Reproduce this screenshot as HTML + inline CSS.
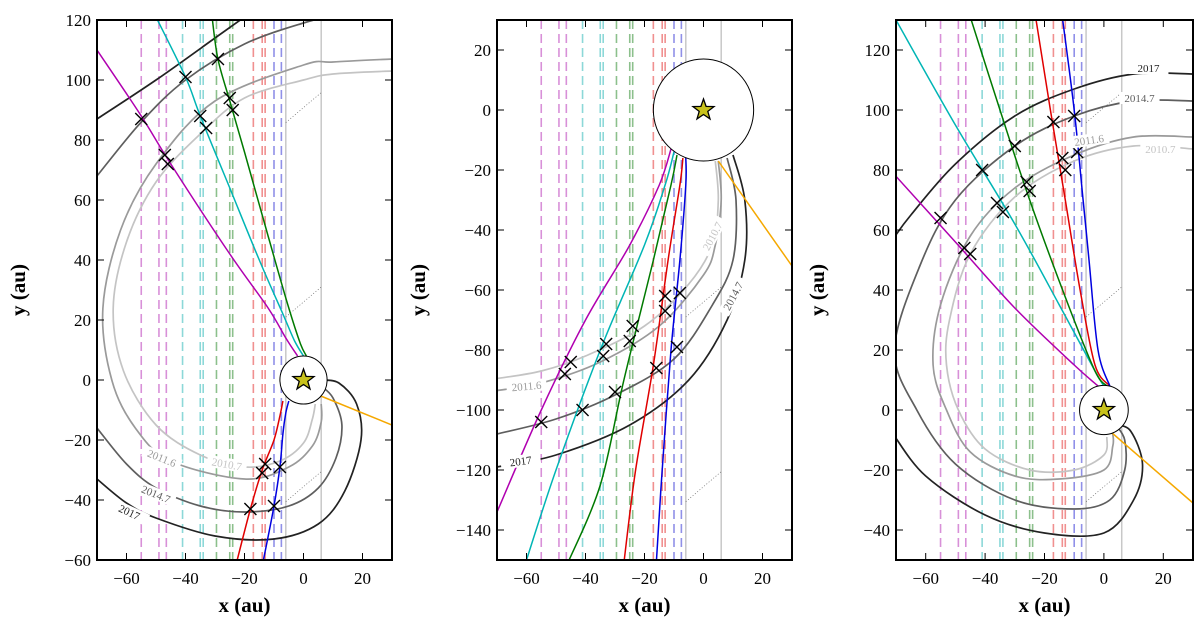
<!DOCTYPE html>
<html><head><meta charset="utf-8"><style>
body{margin:0;background:#fff}
svg text{font-family:"Liberation Serif",serif}
</style></head><body>
<svg id="fig" width="1200" height="618" viewBox="0 0 1200 618" xmlns="http://www.w3.org/2000/svg"></svg>
<script>
// ---------- data ----------
const xTicks=[-60,-40,-20,0,20];
const yTicks1=[-60,-40,-20,0,20,40,60,80,100,120];
const yTicks2=[-140,-120,-100,-80,-60,-40,-20,0,20];
const yTicks3=[-40,-20,0,20,40,60,80,100,120];
const dashX=[-55,-49,-46.5,-41,-35,-34,-29.5,-25,-24,-17,-14,-13,-10,-7.5];
const dashColors=["m","m","m","c","c","c","g","g","g","r","r","r","b","b"];
const greyX=[-6,6];
const epochs=["2010.7","2011.6","2014.7","2017"];
const epochColors=["#c4c4c4","#9a9a9a","#5e5e5e","#222"];
// panel 1
const p1Shells=[
 [[30,103],[10,102],[0,100],[-20,94],[-35,82],[-50,66],[-60,46],[-64.5,24],[-61,3],[-50,-15],[-35,-25],[-20,-29],[-8,-27],[0,-21],[3,-13],[4,-8]],
 [[30,107],[10,106],[0,105],[-30,93],[-50,72],[-62,50],[-68,24],[-65,0],[-57,-16],[-45,-27],[-20,-33],[-5,-29],[3,-22],[6,-14],[6,-8]],
 [[-70,68],[-55,86],[-40,100],[-20,112],[0,119],[10,121],[30,122]],
 [[-70,87],[-50,100],[-30,114],[-20,121]]
];
const p1ShellsLow=[
 [[-70,-16],[-60,-28],[-50,-36],[-35,-42],[-20,-44],[-5,-42],[5,-36],[11,-26],[13,-15],[10,-6],[6,-2]],
 [[-70,-33],[-60,-41],[-50,-46],[-30,-52],[-10,-53],[5,-48],[14,-37],[19.5,-20],[18,-8],[12,-1],[6,0]]
];
const p1Traj=[
 [[-70,110],[-55,88],[-45,72],[-25,42],[-12,24],[-6,14],[-2,8]],
 [[-50,121],[-40,101],[-35,88],[-25,64],[-15,40],[-7,22],[-3,13],[0,8]],
 [[-31,121],[-29,107],[-25,93],[-20,76],[-12,48],[-5,24],[-1,12],[1,8]],
 [[-23,-62],[-18,-43],[-14,-30],[-10,-20],[-8,-12],[-7,-7]],
 [[-14,-62],[-10,-42],[-8,-29],[-7,-18],[-6,-11],[-5,-7]],
 [[5,-5],[30,-15]]
];
const p1Marks=[[-55,87],[-47,75],[-46,72],[-40,101],[-35,88],[-33,84],[-29,107],[-25,94],[-24,90],[-18,-43],[-13,-28],[-14,-31],[-10,-42],[-8,-29]];
const p1Labels=[[-26,-28,"2010.7",10],[-48,-26,"2011.6",22],[-50,-38,"2014.7",22],[-59,-44,"2017",25]];
// panel 2
const p2Shells=[
 [[4,-17],[5,-30],[3,-45],[-5,-58],[-20,-72],[-40,-82],[-55,-87],[-70,-89.5]],
 [[5,-17],[6,-30],[4,-45],[0,-55],[-15,-72],[-35,-84],[-55,-91],[-70,-93.5]],
 [[8,-16],[11,-30],[10,-50],[3,-65],[-10,-83],[-30,-95],[-50,-103],[-70,-108]],
 [[10,-15],[14,-30],[14,-50],[8,-70],[-5,-90],[-25,-105],[-50,-115],[-70,-119]]
];
const p2Traj=[
 [[-11,-13],[-15,-25],[-25,-45],[-40,-70],[-55,-100],[-70,-134]],
 [[-10,-14],[-13,-25],[-20,-45],[-35,-80],[-50,-120],[-60,-150]],
 [[-9,-15],[-11,-25],[-17,-50],[-27,-90],[-35,-125],[-46,-151]],
 [[-7,-16],[-8,-25],[-12,-50],[-17,-85],[-23,-120],[-27,-151]],
 [[-6,-16],[-6,-25],[-8,-50],[-11,-80],[-14,-120],[-16,-151]],
 [[5,-17],[30,-52]]
];
const p2Marks=[[-55,-104],[-47,-88],[-45,-84],[-41,-100],[-34,-82],[-33,-78],[-30,-94],[-25,-77],[-24,-72],[-16,-86],[-13,-67],[-13,-62],[-9,-79],[-8,-61]];
const p2Labels=[[3,-42,"2010.7",-62],[-60,-92,"2011.6",-5],[10,-62,"2014.7",-62],[-62,-117,"2017",-8]];
// panel 3
const p3Shells=[
 [[30,87],[10,88],[-10,83],[-30,71],[-45,52],[-52,30],[-53,15],[-49,0],[-40,-13],[-25,-20],[-10,-20],[0,-15],[1,-9]],
 [[30,91],[10,91],[-10,85],[-30,74],[-45,58],[-55,35],[-57.5,15],[-53,0],[-45,-14],[-30,-22],[-15,-23],[0,-20],[3,-12],[3,-8]],
 [[30,103],[10,103],[-10,98],[-30,88],[-50,70],[-62,48],[-70.5,20],[-63,0],[-50,-18],[-30,-30],[-10,-33],[2,-30],[7,-20],[7,-10],[4,-5]],
 [[30,112],[10,112],[-10,107],[-30,98],[-50,82],[-65,65],[-71,57]]
];
const p3ShellsLow=[
 [[-71,-8],[-60,-22],[-40,-35],[-20,-41],[0,-41],[10,-30],[13,-18],[9,-7],[4,-5]]
];
const p3Traj=[
 [[-71,79],[-50,56],[-30,34],[-10,15],[-2,8]],
 [[-70,130],[-50,95],[-30,62],[-15,35],[-3,13],[0,8]],
 [[-45,131],[-35,100],[-25,70],[-12,35],[-3,13],[1,8]],
 [[-23,131],[-18,100],[-13,70],[-8,40],[-3,15],[2,8]],
 [[-14,131],[-10,100],[-7,70],[-5,50],[-2,20],[2,8]],
 [[2,-7],[30,-31]]
];
const p3Marks=[[-55,64],[-47,54],[-45,52],[-41,80],[-36,69],[-34,66],[-30,88],[-26,76],[-25,73],[-17,96],[-14,84],[-13,80],[-10,98],[-9,86]];
const p3Labels=[[19,87,"2010.7",0],[-5,90,"2011.6",-8],[12,104,"2014.7",0],[15,114,"2017",0]];
const trajColors=["#b000b0","#00b5b5","#007a00","#e00000","#0000e0","#f5a800"];
const dashColorMap={m:"#d890d8",c:"#8cd8d8",g:"#8cc08c",r:"#f09090",b:"#9090e8"};

// ---------- drawing ----------
const NS="http://www.w3.org/2000/svg";
const svg=document.getElementById('fig');
function mk(tag,attrs,parent){const e=document.createElementNS(NS,tag);for(const k in attrs)e.setAttribute(k,attrs[k]);(parent||svg).appendChild(e);return e;}
function smooth(p){ // Catmull-Rom to cubic bezier
  if(p.length<3)return 'M'+p.map(q=>q[0].toFixed(1)+','+q[1].toFixed(1)).join('L');
  let d='M'+p[0][0].toFixed(1)+','+p[0][1].toFixed(1);
  for(let i=0;i<p.length-1;i++){const p0=p[i-1]||p[i],p1=p[i],p2=p[i+1],p3=p[i+2]||p2;
    const c1=[p1[0]+(p2[0]-p0[0])/6,p1[1]+(p2[1]-p0[1])/6],c2=[p2[0]-(p3[0]-p1[0])/6,p2[1]-(p3[1]-p1[1])/6];
    d+=`C${c1[0].toFixed(1)},${c1[1].toFixed(1)} ${c2[0].toFixed(1)},${c2[1].toFixed(1)} ${p2[0].toFixed(1)},${p2[1].toFixed(1)}`;}
  return d;
}

function panel(id,L,R,T,B,xmin,xmax,ymin,ymax,yTicks,shells,low,traj,marks,labels,circR){
  const X=v=>L+(v-xmin)/(xmax-xmin)*(R-L);
  const Y=v=>B-(v-ymin)/(ymax-ymin)*(B-T);
  const g=mk('g',{});
  
  
  const cp=mk('clipPath',{id:'clip'+id},g);mk('rect',{x:L,y:T,width:R-L,height:B-T},cp);
  const pl=mk('g',{'clip-path':'url(#clip'+id+')'},g);
  dashX.forEach((v,i)=>{const l=mk('line',{x1:X(v),x2:X(v),y1:T,y2:B,stroke:dashColorMap[dashColors[i]],'stroke-width':1.6,'stroke-dasharray':'9,5'},pl);
    });
  greyX.forEach(v=>{const l=mk('line',{x1:X(v),x2:X(v),y1:T,y2:B,stroke:'#c8c8c8','stroke-width':1.5},pl);
    });
  [[0.45,0.9],[0.5,0.5],[0.55,0.12]].forEach(f=>{mk('line',{x1:X(-6),y1:Y(ymin+(ymax-ymin)*f[1]*0.9),x2:X(6),y2:Y(ymin+(ymax-ymin)*f[1]*0.9)-30,stroke:'#666','stroke-width':0.7,'stroke-dasharray':'1,2'},pl);});
  const P=pts=>smooth(pts.map(p=>[X(p[0]),Y(p[1])]));
  shells.forEach((s,i)=>{const e=mk('path',{d:P(s),fill:'none',stroke:epochColors[i],'stroke-width':1.7},pl);
    });
  low.forEach((s,i)=>{const idx=low.length===2?2+i:3;const e=mk('path',{d:P(s),fill:'none',stroke:epochColors[idx],'stroke-width':1.7},pl);
    });
  traj.forEach((s,i)=>{const e=mk('path',{d:P(s),fill:'none',stroke:trajColors[i],'stroke-width':1.5},pl);
    });
  marks.forEach(m=>{const cx=X(m[0]),cy=Y(m[1]),d=6;
    const e=mk('path',{d:`M${cx-d},${cy-d}L${cx+d},${cy+d}M${cx-d},${cy+d}L${cx+d},${cy-d}`,stroke:'#000','stroke-width':1.4},pl);
    });
  labels.forEach(lb=>{const x=X(lb[0]),y=Y(lb[1]);
    mk('rect',{x:x-20,y:y-6,width:40,height:12,fill:'#fff',transform:`rotate(${lb[3]} ${x} ${y})`},pl);
    const t=mk('text',{x:x,y:y+4,'text-anchor':'middle','font-size':11,fill:epochColors[epochs.indexOf(lb[2])],transform:`rotate(${lb[3]} ${x} ${y})`},pl);
    t.textContent=lb[2];});
  const c=mk('ellipse',{cx:X(0),cy:Y(0),rx:circR*(R-L)/(xmax-xmin),ry:circR*(B-T)/(ymax-ymin),fill:'#fff',stroke:'#000','stroke-width':1},pl);
  
  let sp='';for(let k=0;k<10;k++){const r=k%2?4.5:11,a=-Math.PI/2+k*Math.PI/5;sp+=(X(0)+r*Math.cos(a)).toFixed(1)+','+(Y(0)+r*Math.sin(a)).toFixed(1)+' ';}
  const st=mk('polygon',{points:sp,fill:'#c8c21c',stroke:'#000','stroke-width':1.3},pl);
  
  mk('rect',{x:L,y:T,width:R-L,height:B-T,fill:'none',stroke:'#000','stroke-width':2},g);
  xTicks.forEach(v=>{const x=X(v);mk('line',{x1:x,x2:x,y1:B,y2:B-7,stroke:'#000'},g);mk('line',{x1:x,x2:x,y1:T,y2:T+7,stroke:'#000'},g);
    const t=mk('text',{x:x,y:B+24,'text-anchor':'middle','font-size':17},g);t.textContent=v<0?'\u2212'+(-v):v;
    });
  yTicks.forEach(v=>{const y=Y(v);mk('line',{x1:L,x2:L+7,y1:y,y2:y,stroke:'#000'},g);mk('line',{x1:R,x2:R-7,y1:y,y2:y,stroke:'#000'},g);
    const t=mk('text',{x:L-6,y:y+6,'text-anchor':'end','font-size':17},g);t.textContent=v<0?'\u2212'+(-v):v;
    });
  const xt=mk('text',{x:(L+R)/2,y:612,'text-anchor':'middle','font-size':21,'font-weight':'bold'},g);xt.textContent='x (au)';
  
  const yx=L-72,yy=(T+B)/2;
  const yt=mk('text',{x:yx,y:yy,'text-anchor':'middle','font-size':21,'font-weight':'bold',transform:`rotate(-90 ${yx} ${yy})`},g);yt.textContent='y (au)';
  
}
panel('panel-1',97,392,20,560,-70,30,-60,120,yTicks1,p1Shells,p1ShellsLow,p1Traj,p1Marks,p1Labels,8);
panel('panel-2',497,792,20,560,-70,30,-150,30,yTicks2,p2Shells,[],p2Traj,p2Marks,p2Labels,17);
panel('panel-3',896,1193,20,560,-70,30,-50,130,yTicks3,p3Shells,p3ShellsLow,p3Traj,p3Marks,p3Labels,8.2);
</script>
</body></html>
